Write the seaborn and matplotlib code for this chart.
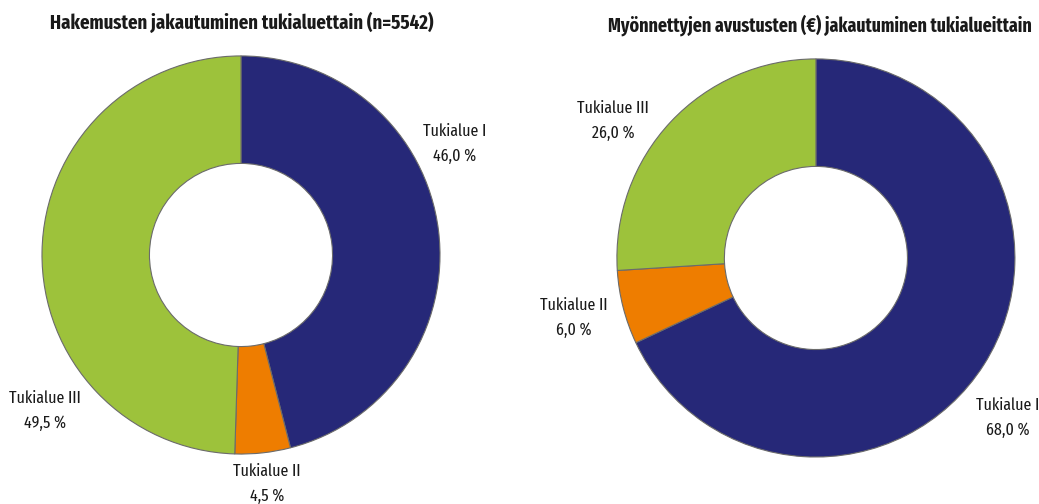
import matplotlib
matplotlib.use("Agg")
import matplotlib.pyplot as plt
import seaborn as sns

# data
categories = ["Tukialue I", "Tukialue II", "Tukialue III"]
applications_pct = [46.0, 4.5, 49.5]
grants_pct = [68.0, 6.0, 26.0]
colors = ["#262878", "#EE7D00", "#9DC23B"]

title_left = "Hakemusten jakautuminen tukialuettain (n=5542)"
title_right = "Myönnettyjen avustusten (€) jakautuminen tukialueittain"

sns.set_style("white")
plt.rcParams["font.family"] = ["Fira Sans Extra Condensed", "DejaVu Sans"]

fig = plt.figure(figsize=(10.39, 5.04), dpi=100)

# label positions (data units, radius = 1)
label_pos_left = [(1.075, 0.558), (0.131, -1.151), (-0.985, -0.784)]
label_pos_right = [(0.965, -0.804), (-1.216, -0.302), (-1.02, 0.688)]


def donut(rect, xlim, ylim, values, title, label_pos, title_x, title_size):
    ax = fig.add_axes(rect)
    ax.pie(values, colors=colors, startangle=90, counterclock=False,
           radius=1.0, wedgeprops=dict(width=0.54, edgecolor="#6b6b6b", linewidth=0.8))
    ax.set_xlim(*xlim)
    ax.set_ylim(*ylim)
    ax.set_aspect("auto")
    ax.axis("off")
    for name, v, (x, y) in zip(categories, values, label_pos):
        ax.text(x, y, f"{name}\n{v:.1f} %".replace(".", ","), ha="center", va="center",
                fontsize=12.5, linespacing=1.7, color="#1a1a1a")
    ax.text(title_x, 1.17, title, ha="center", va="center", fontsize=title_size,
            fontweight="bold", color="#1a1a1a")
    return ax


donut([0, 0, 520 / 1039, 1], (-1.211, 1.402), (-1.251, 1.281),
      applications_pct, title_left, label_pos_left, 0.005, 14.6)
donut([520 / 1039, 0, 519 / 1039, 1], (-1.487, 1.121), (-1.236, 1.296),
      grants_pct, title_right, label_pos_right, 0.02, 14)

fig.savefig("out.png", dpi=100)
